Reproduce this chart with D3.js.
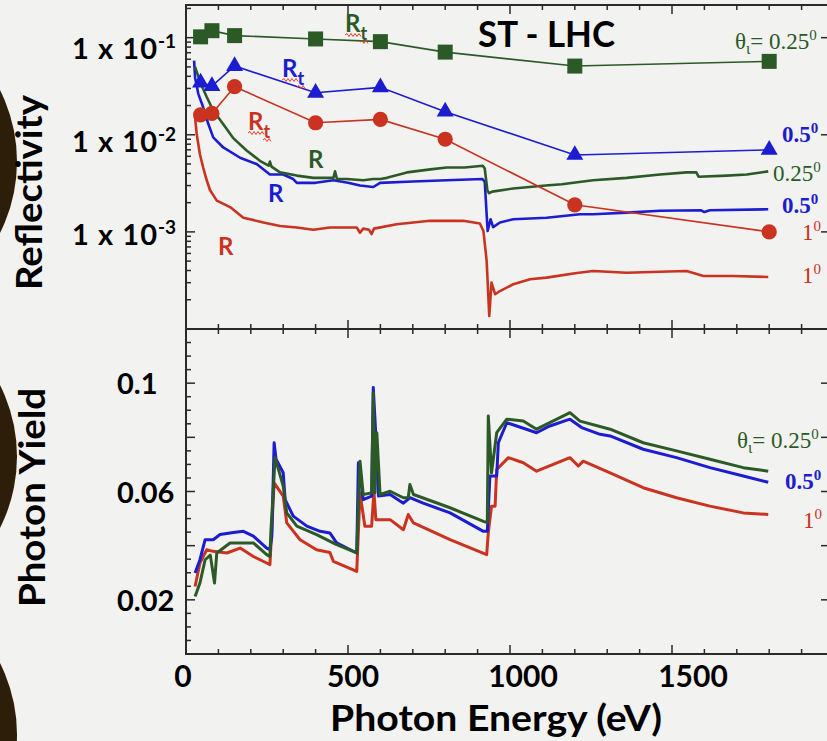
<!DOCTYPE html>
<html>
<head>
<meta charset="utf-8">
<script src="https://cdn.jsdelivr.net/npm/d3@7"></script>
<style>
  html, body { margin: 0; padding: 0; background: #f2f2f0; }
  svg { display: block; }
</style>
</head>
<body>
<svg id="chart" width="827" height="741"></svg>
<script>
// ---- Total reflectivity Rt (marker series), energies in eV ----
const rtEnergy = [45, 80, 150, 400, 600, 800, 1200, 1800];
const rtGreen  = [0.102, 0.118, 0.105, 0.097, 0.091, 0.071, 0.051, 0.057];   // 0.25 deg
const rtBlue   = [0.0344, 0.0318, 0.0511, 0.0271, 0.0308, 0.0173, 0.0062, 0.0070]; // 0.5 deg
const rtRed    = [0.0160, 0.0166, 0.0313, 0.0133, 0.0144, 0.0090, 0.0019, 0.0010]; // 1 deg

// ---- Specular reflectivity R, [energy eV, reflectivity] ----
const rGreen = [[28,0.050],[45,0.034],[64,0.0245],[84,0.0178],[114,0.0130],[145,0.0093],[187,0.0069],
  [228,0.0054],[255,0.0048],[259,0.0053],[264,0.0047],[290,0.0041],[342,0.0038],[393,0.0036],[455,0.0036],
  [460,0.0042],[466,0.0035],[496,0.0035],[547,0.0034],[578,0.0035],[600,0.0035],[620,0.0036],[682,0.0041],
  [754,0.0044],[805,0.0046],[860,0.0046],[916,0.0048],[922,0.0045],[930,0.0027],[935,0.0025],[945,0.0026],
  [1010,0.0028],[1110,0.0030],[1160,0.0031],[1256,0.0034],[1360,0.0036],[1463,0.0039],[1545,0.0041],
  [1575,0.0041],[1582,0.0037],[1669,0.0038],[1731,0.0039],[1797,0.0042]];
const rBlue = [[25,0.058],[28,0.039],[38,0.0264],[53,0.0192],[69,0.0129],[84,0.0094],[115,0.0074],
  [167,0.0058],[218,0.0050],[259,0.0039],[300,0.0039],[331,0.0035],[342,0.0032],[400,0.0032],[455,0.0034],
  [500,0.0032],[537,0.0030],[578,0.0029],[599,0.0032],[700,0.0033],[805,0.0034],[915,0.0035],[922,0.0033],
  [931,0.00102],[940,0.00135],[948,0.00112],[969,0.00125],[1010,0.00135],[1113,0.0014],[1216,0.00152],
  [1257,0.00152],[1360,0.00158],[1463,0.00165],[1590,0.00167],[1600,0.0016],[1617,0.00167],[1797,0.00171]];
const rRed = [[28,0.0151],[33,0.0102],[43,0.0063],[53,0.0046],[64,0.0034],[74,0.0027],[95,0.0021],
  [136,0.0018],[177,0.0014],[239,0.00125],[290,0.00115],[342,0.00111],[393,0.00105],[444,0.00111],
  [527,0.00111],[537,0.00098],[547,0.00108],[565,0.00105],[573,0.00095],[580,0.00108],[650,0.0012],
  [753,0.0013],[856,0.0013],[907,0.00122],[918,0.00102],[928,0.0005],[936,0.000136],[943,0.0003],
  [954,0.000228],[969,0.000246],[1010,0.000289],[1062,0.000325],[1113,0.000338],[1206,0.000378],
  [1257,0.000396],[1360,0.00038],[1463,0.000389],[1545,0.000396],[1597,0.000352],[1689,0.000352],[1797,0.000343]];

// ---- Photon yield, [energy eV, yield] ----
const pyRed = [[28,0.0249],[43,0.0336],[64,0.0385],[84,0.0379],[126,0.0373],[167,0.0391],[208,0.036],
  [249,0.0336],[259,0.033],[272,0.0632],[300,0.0583],[311,0.0484],[352,0.0422],[403,0.0385],[444,0.0375],
  [455,0.0342],[527,0.0305],[537,0.0595],[552,0.0472],[573,0.0472],[580,0.0601],[586,0.0496],[630,0.0496],
  [671,0.0459],[686,0.0515],[702,0.0484],[815,0.0422],[928,0.0367],[933,0.0447],[943,0.0546],[954,0.0546],
  [959,0.0681],[995,0.0725],[1041,0.0706],[1082,0.0675],[1185,0.0725],[1211,0.0694],[1226,0.0712],
  [1309,0.0669],[1411,0.0614],[1514,0.0577],[1617,0.0546],[1720,0.0521],[1797,0.0515]];
const pyBlue = [[28,0.0299],[43,0.0348],[59,0.0422],[84,0.0422],[105,0.0441],[146,0.0449],[177,0.0453],
  [208,0.0435],[249,0.0391],[259,0.0385],[265,0.0435],[272,0.078],[278,0.0719],[300,0.0669],[306,0.057],
  [331,0.0509],[373,0.0472],[414,0.0453],[444,0.0447],[465,0.041],[527,0.0373],[532,0.0706],[547,0.057],
  [573,0.0583],[578,0.0984],[586,0.0805],[594,0.0583],[630,0.0589],[671,0.0557],[691,0.0577],[732,0.0557],
  [815,0.0521],[918,0.0453],[930,0.0453],[938,0.0657],[959,0.0657],[964,0.078],[990,0.0854],[1021,0.0842],
  [1082,0.0817],[1123,0.0842],[1185,0.0867],[1221,0.0836],[1278,0.0811],[1309,0.0805],[1411,0.0756],
  [1514,0.0725],[1617,0.0688],[1720,0.0657],[1797,0.0634]];
const pyGreen = [[28,0.0212],[43,0.0262],[59,0.0348],[75,0.0365],[88,0.0262],[95,0.0373],[136,0.041],
  [187,0.041],[208,0.041],[249,0.0367],[259,0.036],[262,0.045],[275,0.0725],[300,0.062],[311,0.0521],
  [342,0.0472],[403,0.0441],[465,0.0404],[527,0.0373],[537,0.0712],[547,0.0589],[573,0.0595],[578,0.0965],
  [583,0.0595],[589,0.0817],[599,0.0589],[630,0.0601],[671,0.0577],[686,0.0577],[691,0.0626],[702,0.0589],
  [815,0.054],[918,0.049],[930,0.0485],[933,0.0879],[943,0.0669],[959,0.0817],[990,0.0867],[1041,0.086],
  [1082,0.083],[1154,0.0873],[1185,0.0891],[1216,0.086],[1309,0.083],[1411,0.078],[1514,0.075],
  [1617,0.0719],[1720,0.0688],[1797,0.0675]];

// ---- Tick values and labels ----
const xTickLabels = [0, 500, 1000, 1500];
const reflDecades = [1e-1, 1e-2, 1e-3];
const reflExponents = ["-1", "-2", "-3"];
const yieldTickLabels = [0.1, 0.06, 0.02];

// ---------------------------------------------------------------
const COL = { green: "#2b5a27", blue: "#1c1cd0", red: "#c9331f" };
const SANS = "Lato, 'Open Sans', 'DejaVu Sans', sans-serif";
const SERIF = "'Liberation Serif', 'DejaVu Serif', serif";

const svg = d3.select("#chart");
svg.append("rect").attr("width", 827).attr("height", 741).attr("fill", "#f2f2f0");

// dark discs at the slide's left edge
svg.selectAll("circle.disc").data([161.5, 456.5, 734.5]).join("circle")
  .attr("class", "disc").attr("cx", -142).attr("cy", d => d).attr("r", 159).attr("fill", "#2d1e0a");

// scales
const x = d3.scaleLinear().domain([0, 2000]).range([186, 834]);
const yR = d3.scaleLog().domain([1e-4, 0.217]).range([329, 5]);
const yP = d3.scaleLinear().domain([0, 0.12]).range([654, 329]);
const xLab = d3.scaleLinear().domain([0, 1500]).range([183, 693]);
const yRLab = d3.scaleLog().domain([1e-3, 1e-1]).range([245, 59]);

const axisCol = "#2a2a2a";
const gAx = svg.append("g").attr("stroke", axisCol);

// frame
const [x0, x1] = x.range();
gAx.append("path").attr("fill", "none").attr("stroke-width", 2)
  .attr("d", `M${x0},${yR.range()[1]}H${x1}V${yP.range()[0]}H${x0}Z M${x0},${yR.range()[0]}H${x1}`);

// horizontal-axis ticks (top, middle both ways, bottom)
const xTicks = d3.range(100, 2000, 100);
function hTicks(yLine, dir) {
  gAx.append("g").selectAll("line").data(xTicks).join("line")
    .attr("stroke-width", 1.5)
    .attr("x1", d => x(d)).attr("x2", d => x(d))
    .attr("y1", yLine).attr("y2", d => yLine + dir * (d % 500 === 0 ? 9 : 5));
}
hTicks(yR.range()[1], 1);
hTicks(yR.range()[0], -1);
hTicks(yR.range()[0], 1);
hTicks(yP.range()[0], -1);

// left log ticks, top panel
const logTicks = [];
for (let e = -4; e <= -1; e++) for (let m = 1; m <= 9; m++) {
  const v = m * Math.pow(10, e);
  if (v > 1e-4 && v < 0.217) logTicks.push({ v, major: m === 1 });
}
gAx.append("g").selectAll("line").data(logTicks).join("line")
  .attr("stroke-width", 1.5)
  .attr("x1", x0).attr("x2", d => x0 + (d.major ? 9 : 5))
  .attr("y1", d => yR(d.v)).attr("y2", d => yR(d.v));

// left linear ticks, bottom panel
const linTicks = d3.range(1, 24).map(i => i * 0.005);
gAx.append("g").selectAll("line").data(linTicks).join("line")
  .attr("stroke-width", 1.5)
  .attr("x1", x0).attr("x2", (d, i) => x0 + ((i + 1) % 4 === 0 ? 9 : 5))
  .attr("y1", d => yP(d)).attr("y2", d => yP(d));

// right-hand ticks
gAx.append("g").selectAll("line").data(reflDecades).join("line")
  .attr("stroke-width", 1.5)
  .attr("x1", x1).attr("x2", x1 - 13).attr("y1", d => yR(d)).attr("y2", d => yR(d));
gAx.append("g").selectAll("line").data([0.02, 0.04, 0.06, 0.08, 0.1]).join("line")
  .attr("stroke-width", 1.5)
  .attr("x1", x1).attr("x2", x1 - 13).attr("y1", d => yP(d)).attr("y2", d => yP(d));

// ---- curves ----
const lineR = d3.line().x(d => x(d[0])).y(d => yR(d[1]));
const lineP = d3.line().x(d => x(d[0])).y(d => yP(d[1]));

const gCurves = svg.append("g").attr("fill", "none").attr("stroke-linejoin", "round");
[[rRed, COL.red], [rBlue, COL.blue], [rGreen, COL.green]].forEach(([data, c]) => {
  gCurves.append("path").attr("d", lineR(data)).attr("stroke", c).attr("stroke-width", 2.6);
});
[[pyRed, COL.red], [pyBlue, COL.blue], [pyGreen, COL.green]].forEach(([data, c]) => {
  gCurves.append("path").attr("d", lineP(data)).attr("stroke", c).attr("stroke-width", 3);
});

// ---- Rt series with markers ----
function rtSeries(values, color, shape) {
  const pts = rtEnergy.map((e, i) => [e, values[i]]);
  svg.append("path").attr("d", lineR(pts)).attr("fill", "none")
    .attr("stroke", color).attr("stroke-width", 1.6);
  const g = svg.append("g").attr("fill", color);
  if (shape === "square") {
    g.selectAll("rect").data(pts).join("rect")
      .attr("x", d => x(d[0]) - 7.5).attr("y", d => yR(d[1]) - 7.5)
      .attr("width", 15).attr("height", 15);
  } else if (shape === "triangle") {
    g.selectAll("path").data(pts).join("path")
      .attr("d", d3.symbol(d3.symbolTriangle, 125))
      .attr("transform", d => `translate(${x(d[0])},${yR(d[1])})`);
  } else {
    g.selectAll("circle").data(pts).join("circle")
      .attr("cx", d => x(d[0])).attr("cy", d => yR(d[1])).attr("r", 7.6);
  }
}
rtSeries(rtRed, COL.red, "circle");
rtSeries(rtBlue, COL.blue, "triangle");
rtSeries(rtGreen, COL.green, "square");

// ---- text helpers ----
function rich(xp, yp, parts, attrs) {
  const t = svg.append("text").attr("x", xp).attr("y", yp);
  Object.entries(attrs).forEach(([k, v]) => t.attr(k, v));
  let shift = 0;
  parts.forEach(p => {
    const target = p.dy || 0;
    const s = t.append("tspan").text(p.t).attr("dy", target - shift);
    shift = target;
    if (p.size) s.attr("font-size", p.size);
  });
  return t;
}

// tick labels
svg.append("g").selectAll("text").data(xTickLabels).join("text")
  .attr("x", d => xLab(d)).attr("y", 687).attr("text-anchor", "middle")
  .attr("font-family", SANS).attr("font-weight", 700).attr("font-size", 30)
  .attr("fill", "#000").text(d => d);

reflDecades.forEach((d, i) => {
  svg.append("text").attr("x", 72).attr("y", yRLab(d))
    .attr("font-family", SANS).attr("font-weight", 700).attr("font-size", 29)
    .attr("textLength", 85).attr("lengthAdjust", "spacing").text("1 x 10");
  svg.append("text").attr("x", 158).attr("y", yRLab(d) - 11)
    .attr("font-family", SANS).attr("font-weight", 700).attr("font-size", 19)
    .text(reflExponents[i]);
});

svg.append("g").selectAll("text").data(yieldTickLabels).join("text")
  .attr("x", 117).attr("y", d => yP(d) + 11)
  .attr("font-family", SANS).attr("font-weight", 700).attr("font-size", 29)
  .text(d => String(d));

// title and axis titles
svg.append("text").attr("x", 478).attr("y", 47)
  .attr("font-family", SANS).attr("font-weight", 700).attr("font-size", 36)
  .attr("textLength", 137).attr("lengthAdjust", "spacingAndGlyphs").text("ST - LHC");

svg.append("text").attr("transform", "translate(42,192.5) rotate(-90)").attr("text-anchor", "middle")
  .attr("font-family", SANS).attr("font-weight", 700).attr("font-size", 36)
  .attr("textLength", 195).attr("lengthAdjust", "spacingAndGlyphs").text("Reflectivity");
svg.append("text").attr("transform", "translate(45,497.5) rotate(-90)").attr("text-anchor", "middle")
  .attr("font-family", SANS).attr("font-weight", 700).attr("font-size", 36)
  .attr("textLength", 219).attr("lengthAdjust", "spacingAndGlyphs").text("Photon Yield");
svg.append("text").attr("x", 496).attr("y", 731).attr("text-anchor", "middle")
  .attr("font-family", SANS).attr("font-weight", 700).attr("font-size", 36)
  .attr("textLength", 332).attr("lengthAdjust", "spacingAndGlyphs").text("Photon Energy (eV)");

// curve labels R and Rt
const curveLab = { "font-family": SANS, "font-weight": 700, "font-size": 24 };
function rLabel(xp, yp, color, withT) {
  const parts = [{ t: "R" }];
  if (withT) parts.push({ t: "t", dy: 8, size: 18 });
  rich(xp, yp, parts, Object.assign({ fill: color }, curveLab));
  if (withT) {
    // proofing underline squiggles
    const zig = (a, b, yy) => {
      let d = `M${a},${yy}`;
      for (let k = a, up = true; k < b; k += 2, up = !up) d += `L${k + 2},${yy + (up ? -1.5 : 1.5)}`;
      return d;
    };
    svg.append("path").attr("d", zig(xp, xp + 16, yp + 3) + zig(xp + 15, xp + 23, yp + 10))
      .attr("fill", "none").attr("stroke", "#e2402e").attr("stroke-width", 1);
  }
}
rLabel(345, 32, COL.green, true);
rLabel(282, 77, COL.blue, true);
rLabel(248, 130, COL.red, true);
rLabel(308, 168, COL.green, false);
rLabel(268, 202, COL.blue, false);
rLabel(218, 255, COL.red, false);

// incidence-angle labels
function angle(xp, yp, color, bold, value, withTheta) {
  const parts = [];
  if (withTheta) {
    parts.push({ t: "θ" }, { t: "ι", dy: 5, size: 16 }, { t: "= " });
  }
  parts.push({ t: value }, { t: "0", dy: -9, size: 15 });
  rich(xp, yp, parts, { fill: color, "font-family": SERIF, "font-size": 23, "font-weight": bold ? 700 : 400 });
}
angle(735, 49, COL.green, false, "0.25", true);
angle(782, 142, COL.blue, true, "0.5", false);
angle(773, 181, COL.green, false, "0.25", false);
angle(782, 213, COL.blue, true, "0.5", false);
angle(802, 240, COL.red, false, "1", false);
angle(802, 283, COL.red, false, "1", false);

angle(737, 448, COL.green, false, "0.25", true);
angle(785, 489, COL.blue, true, "0.5", false);
angle(803, 528, COL.red, false, "1", false);
</script>
</body>
</html>
